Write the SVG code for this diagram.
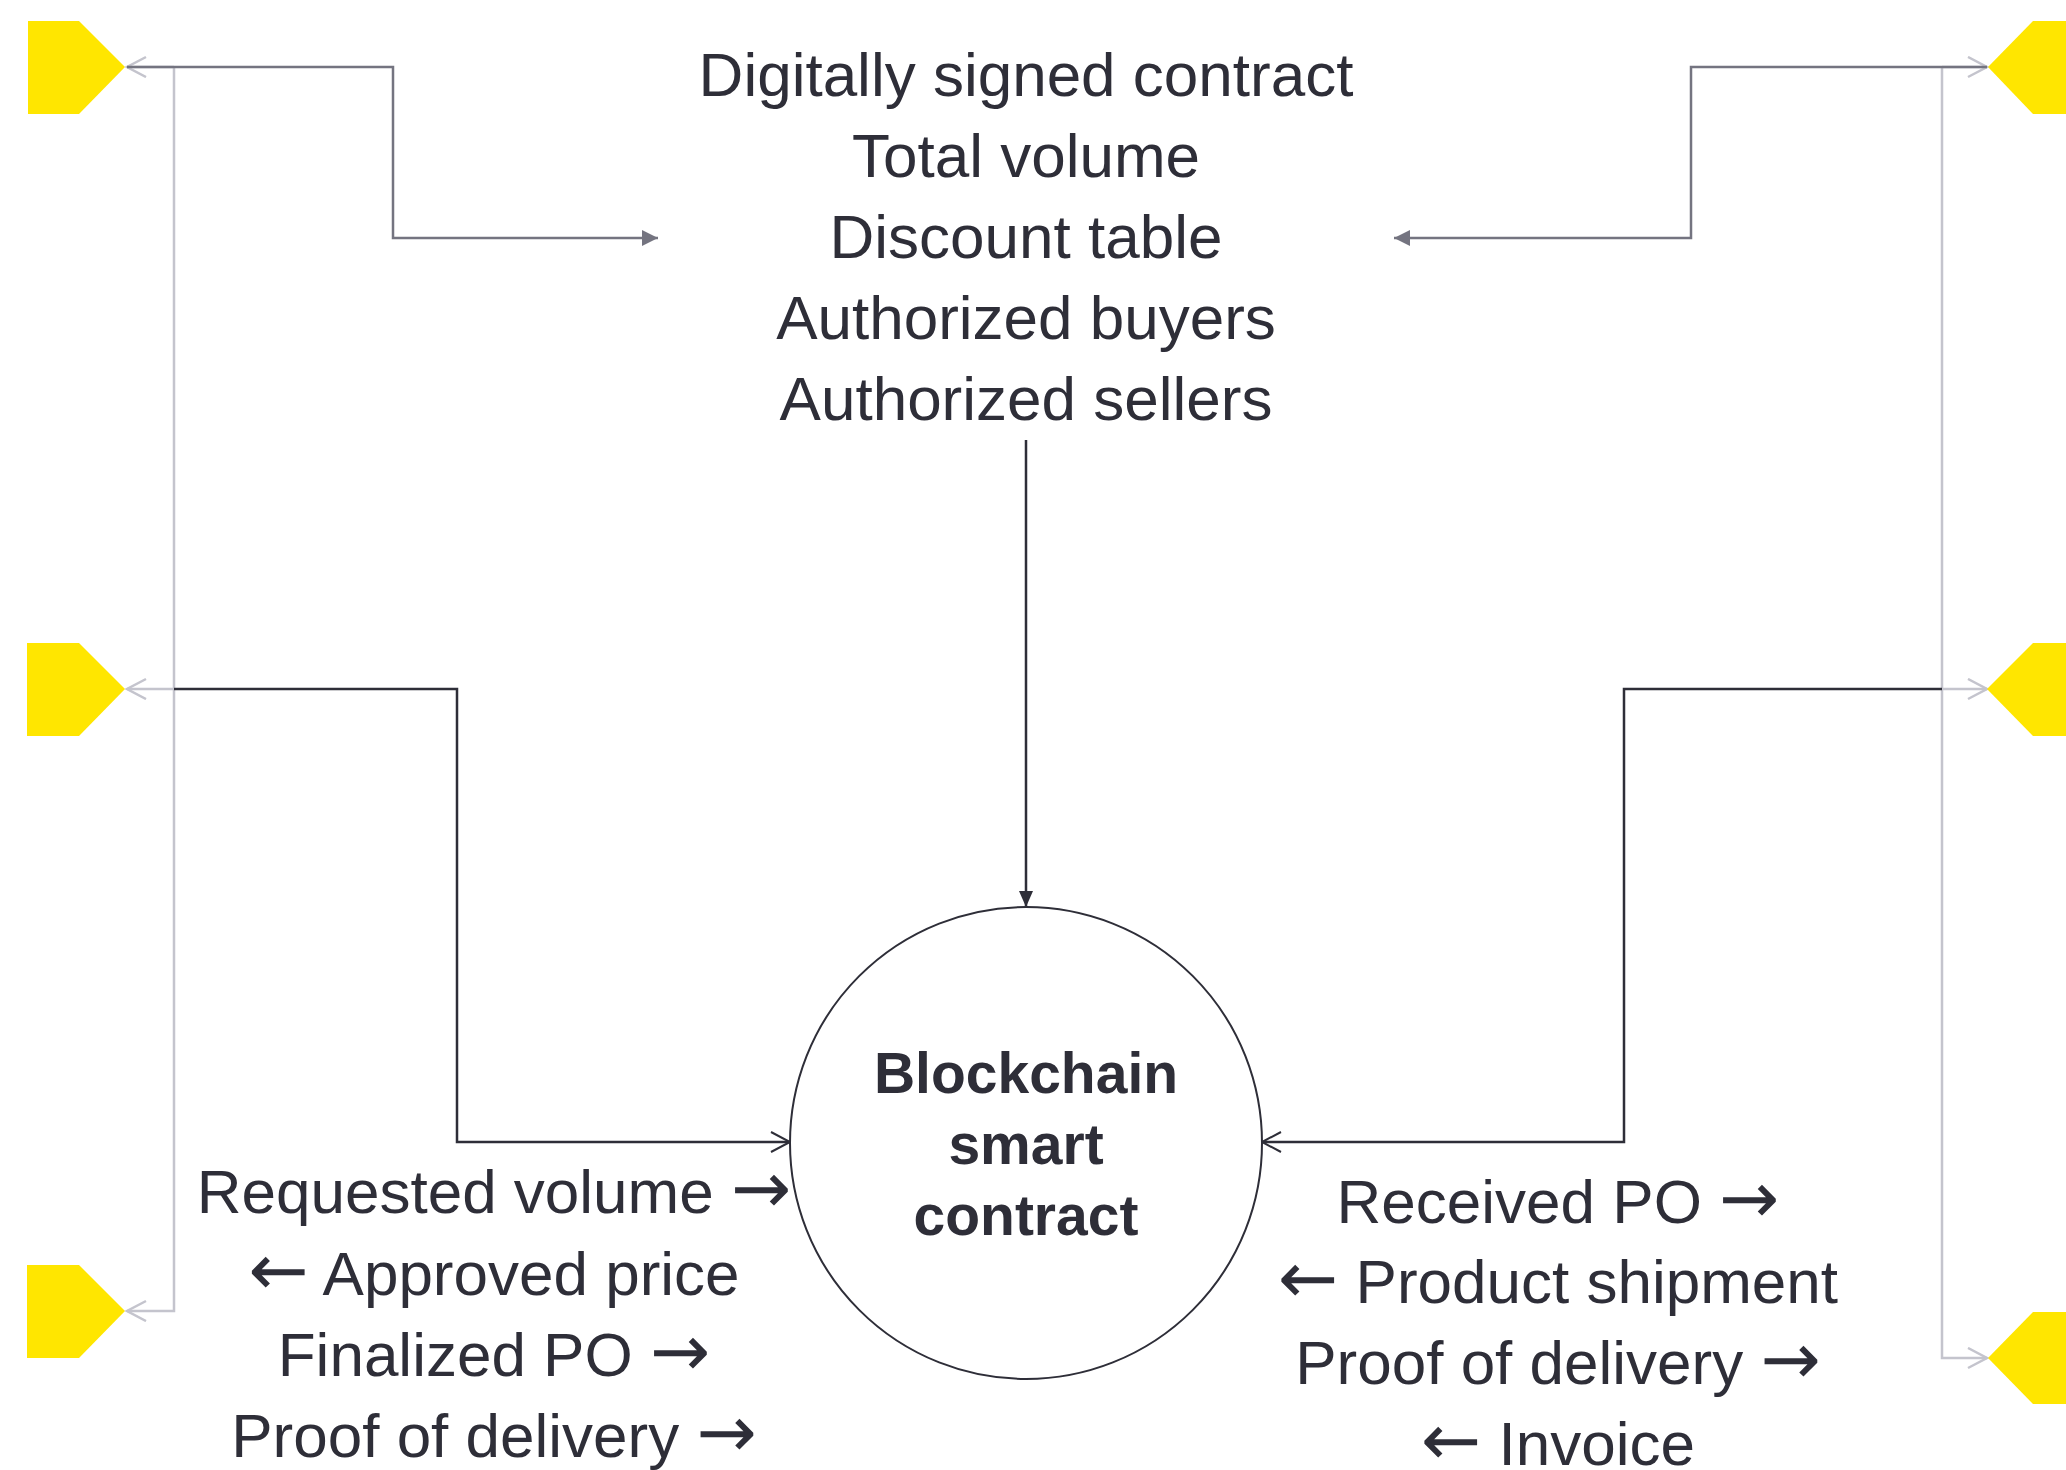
<svg xmlns="http://www.w3.org/2000/svg" width="2066" height="1470" viewBox="0 0 2066 1470">
<style>
.t{font-family:"Liberation Sans",Arial,sans-serif;font-size:62px;fill:#2e2e38;text-anchor:middle}
.a{font-family:"DejaVu Sans",sans-serif;font-size:72px}
.b{font-family:"Liberation Sans",Arial,sans-serif;font-size:57px;font-weight:bold;fill:#2e2e38;text-anchor:middle}
.y{fill:#ffe600}
.lg{fill:none;stroke:#c4c4cd;stroke-width:2.5}
.mg{fill:none;stroke:#747480;stroke-width:2.5}
.dk{fill:none;stroke:#2e2e38;stroke-width:2.5}
</style>
<defs>
<marker id="fm" markerUnits="userSpaceOnUse" markerWidth="20" markerHeight="20" refX="16" refY="8" orient="auto"><path d="M0,0 L16,8 L0,16 Z" fill="#747480"/></marker>
<marker id="fd" markerUnits="userSpaceOnUse" markerWidth="20" markerHeight="20" refX="16" refY="8" orient="auto"><path d="M0,1 L16,8 L0,15 Z" fill="#2e2e38"/></marker>
<marker id="ol" markerUnits="userSpaceOnUse" markerWidth="26" markerHeight="26" refX="21" refY="11" orient="auto"><path d="M2,1 L21,11 L2,21" fill="none" stroke="#c4c4cd" stroke-width="2.5"/></marker>
<marker id="od" markerUnits="userSpaceOnUse" markerWidth="26" markerHeight="26" refX="21" refY="11" orient="auto"><path d="M2,1 L21,11 L2,21" fill="none" stroke="#2e2e38" stroke-width="2"/></marker>
</defs>
<rect width="2066" height="1470" fill="#fff"/>
<g id="connectors">
<path class="lg" d="M174,67 V1311 H127" marker-end="url(#ol)"/>
<path class="lg" d="M174,67 H127" marker-end="url(#ol)"/>
<path class="lg" d="M174,689 H127" marker-end="url(#ol)"/>
<path class="lg" d="M1942,67 V1358 H1987" marker-end="url(#ol)"/>
<path class="lg" d="M1942,67 H1987" marker-end="url(#ol)"/>
<path class="lg" d="M1942,689 H1987" marker-end="url(#ol)"/>
<path class="mg" d="M127,67 H393 V238 H658" marker-end="url(#fm)"/>
<path class="mg" d="M1987,67 H1691 V238 H1394" marker-end="url(#fm)"/>
<path class="dk" d="M1026,440 V907" marker-end="url(#fd)"/>
<path class="dk" d="M174,689 H457 V1142 H790" marker-end="url(#od)"/>
<path class="dk" d="M1942,689 H1624 V1142 H1262" marker-end="url(#od)"/>
</g>
<g id="node-tl"><polygon class="y" points="28,21 79,21 125,67 79,114 28,114"/></g>
<g id="node-ml"><polygon class="y" points="27,643 79,643 125,689 79,736 27,736"/></g>
<g id="node-bl"><polygon class="y" points="27,1265 79,1265 125,1311 79,1358 27,1358"/></g>
<g id="node-tr"><polygon class="y" points="2066,21 2033,21 1988,67 2033,114 2066,114"/></g>
<g id="node-mr"><polygon class="y" points="2066,643 2033,643 1987,689 2033,736 2066,736"/></g>
<g id="node-br"><polygon class="y" points="2066,1312 2033,1312 1988,1358 2033,1404 2066,1404"/></g>
<g id="node-top">
<text class="t" x="1026" y="96">Digitally signed contract</text>
<text class="t" x="1026" y="177">Total volume</text>
<text class="t" x="1026" y="258">Discount table</text>
<text class="t" x="1026" y="339">Authorized buyers</text>
<text class="t" x="1026" y="420">Authorized sellers</text>
</g>
<g id="node-circle">
<circle cx="1026" cy="1143" r="236" fill="#fff" stroke="#2e2e38" stroke-width="2"/>
<text class="b" x="1026" y="1093">Blockchain</text>
<text class="b" x="1026" y="1164">smart</text>
<text class="b" x="1026" y="1235">contract</text>
</g>
<g id="node-left">
<text class="t" x="494" y="1213">Requested volume <tspan class="a">→</tspan></text>
<text class="t" x="494" y="1295"><tspan class="a">←</tspan> Approved price</text>
<text class="t" x="494" y="1376">Finalized PO <tspan class="a">→</tspan></text>
<text class="t" x="494" y="1457">Proof of delivery <tspan class="a">→</tspan></text>
</g>
<g id="node-right">
<text class="t" x="1558" y="1223">Received PO <tspan class="a">→</tspan></text>
<text class="t" x="1558" y="1303"><tspan class="a">←</tspan> Product shipment</text>
<text class="t" x="1558" y="1384">Proof of delivery <tspan class="a">→</tspan></text>
<text class="t" x="1558" y="1465"><tspan class="a">←</tspan> Invoice</text>
</g>
</svg>
